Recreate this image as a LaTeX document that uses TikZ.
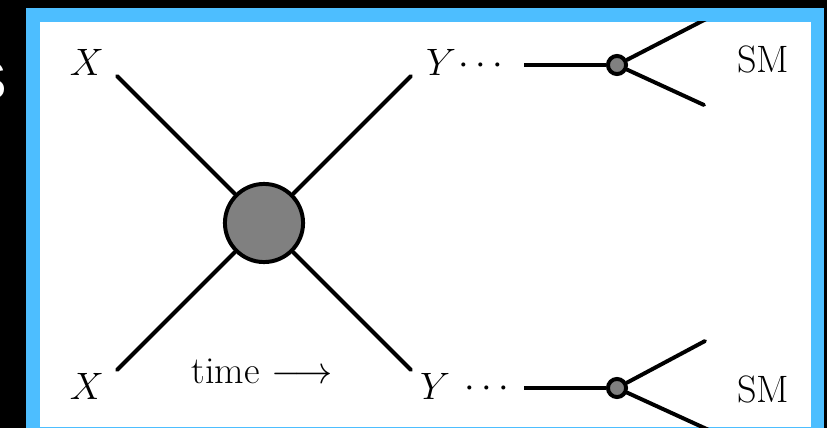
\documentclass[tikz,border=0pt]{standalone}
\usepackage[no-math]{fontspec}
\usepackage{amsmath,amssymb}
\newfontfamily\slidefont{Liberation Sans}
\definecolor{FrameBlue}{HTML}{4DBEFF}
\definecolor{BlobGray}{HTML}{808080}

\begin{document}
\begin{tikzpicture}[x=0.48pt, y=-0.48pt,
  lbl/.style={inner sep=0pt, font=\LARGE, scale=1.06},
  blob/.style={circle, draw=black, fill=BlobGray, line width=1.9pt, inner sep=0pt, minimum size=37.5pt},
  vtx/.style={circle, draw=black, fill=BlobGray, line width=1.9pt, inner sep=0pt, minimum size=8.7pt},
  leg/.style={line width=1.9pt, draw=black, line cap=round}]
  \useasboundingbox (0,0) rectangle (827,428);
  \fill[black] (0,0) rectangle (827,428);
  \begin{scope}
    \clip (0,0) rectangle (827,428);
    \node[inner sep=0pt, anchor=east, text=white, font=\slidefont\fontsize{25.5}{28}\selectfont] (cutS) at (7,81) {S};
    \fill[FrameBlue] (26,8) rectangle (824,428);
    \fill[white] (40,22) rectangle (811,427);
  \end{scope}

  % labels
  \node[lbl] (xa) at (87,62) {$X$};
  \node[lbl] (xb) at (87,386) {$X$};
  \node[lbl] (ya) at (441,62) {$Y$};
  \node[lbl] (yb) at (435,386) {$Y$};
  \node[lbl] (dotsa) at (484,66) {$\cdots$};
  \node[lbl] (dotsb) at (490,389) {$\cdots$};
  \node[lbl] (sma) at (763,59) {SM};
  \node[lbl] (smb) at (763,389) {SM};
  \node[lbl] (time) at (262,371) {time $\longrightarrow$};

  % free ends
  \coordinate (xaEnd) at (117,76);
  \coordinate (xbEnd) at (117,370);
  \coordinate (yaEnd) at (411,76);
  \coordinate (ybEnd) at (411,370);
  \coordinate (inA) at (524,65);
  \coordinate (inB) at (524,388);
  \coordinate (upA) at (708,18);
  \coordinate (dnA) at (704,105);
  \coordinate (upB) at (705,341);
  \coordinate (dnB) at (711,431);

  \node[blob] (core) at (264,223) {};
  \node[vtx] (decA) at (617,65) {};
  \node[vtx] (decB) at (617,388) {};

  \draw[leg] (xaEnd) -- (core);
  \draw[leg] (xbEnd) -- (core);
  \draw[leg] (yaEnd) -- (core);
  \draw[leg] (ybEnd) -- (core);
  \draw[leg, line cap=butt] (inA) -- (decA);
  \draw[leg, line cap=butt] (inB) -- (decB);
  \draw[leg] (dnA) -- (decA);
  \draw[leg] (upB) -- (decB);
  \begin{scope}
    \clip (40,22) rectangle (811,427);
    \draw[leg] (upA) -- (decA);
    \draw[leg] (dnB) -- (decB);
  \end{scope}
\end{tikzpicture}
\end{document}
